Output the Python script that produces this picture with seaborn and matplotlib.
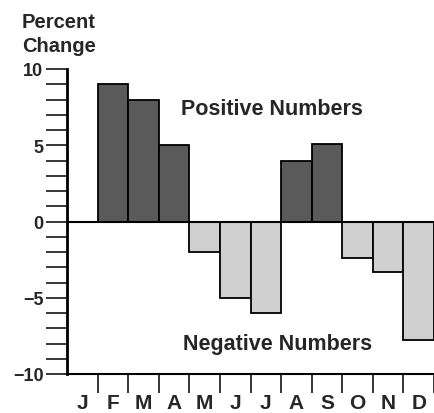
import pandas as pd
import matplotlib.pyplot as plt
import seaborn as sns
from matplotlib.ticker import MultipleLocator, FixedLocator

# Monthly percent change
months = ['Jan', 'Feb', 'Mar', 'Apr', 'May', 'Jun',
          'Jul', 'Aug', 'Sep', 'Oct', 'Nov', 'Dec']
month_letters = ['J', 'F', 'M', 'A', 'M', 'J', 'J', 'A', 'S', 'O', 'N', 'D']
pct_change = [0, 9, 8, 5, -2, -5, -6, 4, 5.1, -2.4, -3.3, -7.8]

df = pd.DataFrame({'Month': months, 'Change': pct_change})
df['Sign'] = ['pos' if v >= 0 else 'neg' for v in df['Change']]

sns.set_style('white')
plt.rcParams['font.family'] = ['Liberation Sans', 'DejaVu Sans']

fig = plt.figure(figsize=(4.34, 4.14), dpi=100)
ax = fig.add_axes([67 / 434, 39 / 414, 1 - 67 / 434, 305 / 414])

sns.barplot(
    data=df, x='Month', y='Change', hue='Sign', order=months,
    palette={'pos': '#5a5a5a', 'neg': '#d0d0d0'},
    dodge=False, width=1.0, edgecolor='black', linewidth=1.3,
    legend=False, ax=ax
)

ax.set_xlim(-0.5, 11.5)
ax.set_ylim(-10, 10)
ax.axhline(0, color='black', lw=1.5, zorder=5)

# y axis: labels every 5, ticks every 1
ax.yaxis.set_minor_locator(MultipleLocator(1))
ax.set_yticks([-10, -5, 0, 5, 10])
ax.set_yticklabels(['\u221210', '\u22125', '0', '5', '10'], fontsize=13, fontweight='bold')
ax.tick_params(axis='y', which='both', direction='out', length=15, width=1.3,
               left=True, pad=2)

# x axis: tick marks between months, letters centred under each month
ax.set_xticks([i + 0.5 for i in range(12)])
ax.set_xticklabels([''] * 12)
ax.set_xticks(list(range(12)), minor=True)
ax.set_xticklabels(month_letters, minor=True, fontsize=15, fontweight='bold')
ax.tick_params(axis='x', which='major', direction='out', length=14, width=1.3, bottom=True)
ax.tick_params(axis='x', which='minor', length=0, pad=14)

ax.set_xlabel('')
ax.set_ylabel('')
for side in ['top', 'right']:
    ax.spines[side].set_visible(False)
ax.spines['left'].set_linewidth(2)
ax.spines['bottom'].set_linewidth(1.5)
ax.spines['left'].set_color('black')
ax.spines['bottom'].set_color('black')

fig.text(22 / 434, 1 - 22 / 414, 'Percent', fontsize=14.5, va='center',
         ha='left', fontweight='bold')
fig.text(22 / 434, 1 - 47 / 414, 'Change', fontsize=14.5, va='center',
         ha='left', fontweight='bold')
ax.text(6.2, 7.4, 'Positive Numbers', fontsize=15.5, fontweight='bold', ha='center', va='center')
ax.text(6.37, -8.0, 'Negative Numbers', fontsize=15.5, fontweight='bold', ha='center', va='center')

plt.savefig('out.png', dpi=100)
plt.close()
